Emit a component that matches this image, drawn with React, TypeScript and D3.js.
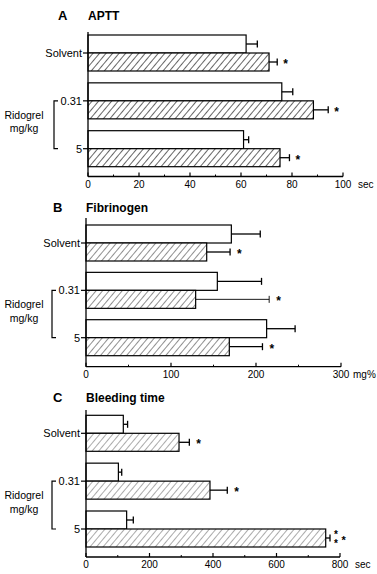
import * as d3 from 'd3'

const categories = ['Solvent', '0.31', '5']

// APTT (sec)
const apttControl = [62, 76, 61]
const apttControlErr = [4.4, 4.3, 2]
const apttTreated = [71, 88.4, 75.3]
const apttTreatedErr = [3.2, 5.8, 3.7]
const apttStars = [1, 1, 1]
const apttTicks = [0, 20, 40, 60, 80, 100]

// Fibrinogen (mg%)
const fibControl = [171, 154.5, 212.5]
const fibControlErr = [34, 52, 33.5]
const fibTreated = [142, 129, 168.6]
const fibTreatedErr = [27.5, 86.5, 39]
const fibStars = [1, 1, 1]
const fibTicks = [0, 100, 200, 300]

// Bleeding time (sec)
const bleedControl = [117.5, 102, 128]
const bleedControlErr = [13.5, 10.5, 21]
const bleedTreated = [293, 390.5, 755]
const bleedTreatedErr = [32.5, 54.5, 13.5]
const bleedStars = [1, 1, 3]
const bleedTicks = [0, 200, 400, 600, 800]

const FONT = 'Liberation Sans, Arial, Helvetica, sans-serif'

type PanelProps = {
  letter: string
  letterX: number
  title: string
  titleY: number
  unit: string
  unitX: number
  ticks: number[]
  control: number[]
  controlErr: number[]
  treated: number[]
  treatedErr: number[]
  stars: number[]
  x0: number
  x1: number
  top: number
  bottom: number
  yFirst: number
  yLast: number
  hatchId: string
  hatchStroke: string
  hatchWidth: number
  starGap: number
}

const Panel = (p: PanelProps) => {
  const max = p.ticks[p.ticks.length - 1]
  const x = d3.scaleLinear().domain([0, max]).range([p.x0, p.x1])
  const y = d3.scalePoint<string>().domain(categories).range([p.yFirst, p.yLast])
  const h = 18
  const step = p.ticks[1] - p.ticks[0]
  const minor = d3.range(step / 2, max, step)
  const b0 = y('0.31')!
  const b1 = y('5')!
  const mid = (b0 + b1) / 2

  const errBar = (v: number, e: number, cy: number, key: string, thin = false) => (
    <g key={key} stroke="#000" strokeWidth={thin ? 0.9 : 1.3}>
      <line x1={x(v)} x2={x(v + e)} y1={cy} y2={cy} />
      <line x1={x(v + e)} x2={x(v + e)} y1={cy - 3.5} y2={cy + 3.5} />
    </g>
  )

  return (
    <g fontFamily={FONT}>
      <defs>
        <pattern id={p.hatchId} width={5} height={5} patternUnits="userSpaceOnUse" patternTransform="rotate(40)">
          <rect width={5} height={5} fill="#fff" />
          <line x1={0} y1={0} x2={0} y2={5} stroke={p.hatchStroke} strokeWidth={p.hatchWidth} />
        </pattern>
      </defs>
      <text x={p.letterX} y={p.titleY} fontSize={13} fontWeight="bold">{p.letter}</text>
      <text x={p.x0} y={p.titleY} fontSize={12} fontWeight="bold">{p.title}</text>

      {categories.map((c, i) => {
        const yb = y(c)!
        const sx = x(p.treated[i] + p.treatedErr[i])
        return (
          <g key={c}>
            <rect x={x(0)} y={yb - h} width={x(p.control[i]) - x(0)} height={h} fill="#fff" stroke="#000" strokeWidth={1.2} />
            <rect x={x(0)} y={yb} width={x(p.treated[i]) - x(0)} height={h} fill={`url(#${p.hatchId})`} stroke="#000" strokeWidth={1.2} />
            {errBar(p.control[i], p.controlErr[i], yb - h / 2, 'c')}
            {errBar(p.treated[i], p.treatedErr[i], yb + h / 2, 't', p.treatedErr[i] > 60)}
            {p.stars[i] === 1 ? (
              <text x={sx + p.starGap} y={yb + h / 2 + 6} fontSize={12} fontWeight="bold">*</text>
            ) : (
              <g fontWeight="bold">
                <text
                  x={sx + 6} y={yb} fontSize={10}
                  style={{ writingMode: 'vertical-rl', textOrientation: 'upright', letterSpacing: '-2px' }}
                >**</text>
                <text x={sx + 11.5} y={yb + h / 2 + 6} fontSize={11}>*</text>
              </g>
            )}
            <line x1={x(0) - 5} x2={x(0)} y1={yb} y2={yb} stroke="#000" strokeWidth={1.2} />
            <text x={x(0) - 6} y={yb} dy="0.35em" fontSize={11} textAnchor="end">{c}</text>
          </g>
        )
      })}

      <line x1={x(0)} x2={x(0)} y1={p.top} y2={p.bottom} stroke="#000" strokeWidth={1.3} />
      <line x1={x(0)} x2={x(max)} y1={p.bottom} y2={p.bottom} stroke="#000" strokeWidth={1.3} />
      {p.ticks.map((t) => (
        <g key={t}>
          <line x1={x(t)} x2={x(t)} y1={p.bottom} y2={p.bottom - 4} stroke="#000" strokeWidth={1.2} />
          <text x={x(t)} y={p.bottom + 11} fontSize={10} textAnchor="middle">{t}</text>
        </g>
      ))}
      {minor.map((t) => (
        <line key={t} x1={x(t)} x2={x(t)} y1={p.bottom} y2={p.bottom - 2} stroke="#000" strokeWidth={1} />
      ))}
      <text x={p.unitX} y={p.bottom + 11} fontSize={10}>{p.unit}</text>

      <path d={`M${p.x0 - 30},${b0} H${p.x0 - 34} V${b1} H${p.x0 - 30}`} fill="none" stroke="#000" strokeWidth={1.2} />
      <text x={24} y={mid - 9.5} dy="0.35em" fontSize={10.5} textAnchor="middle">Ridogrel</text>
      <text x={24} y={mid + 4} dy="0.35em" fontSize={10.5} textAnchor="middle">mg/kg</text>
    </g>
  )
}

export default function App() {
  return (
    <svg width={377} height={574} style={{ position: 'absolute', left: 0, top: 0, background: '#fff' }}>
      <Panel
        letter="A" letterX={58} title="APTT" titleY={20} unit="sec" unitX={358}
        ticks={apttTicks} control={apttControl} controlErr={apttControlErr}
        treated={apttTreated} treatedErr={apttTreatedErr} stars={apttStars}
        x0={88} x1={343} top={32} bottom={176.5} yFirst={53} yLast={148.7}
        hatchId="hA" hatchStroke="#000" hatchWidth={1.2} starGap={6}
      />
      <Panel
        letter="B" letterX={53} title="Fibrinogen" titleY={212} unit="mg%" unitX={353}
        ticks={fibTicks} control={fibControl} controlErr={fibControlErr}
        treated={fibTreated} treatedErr={fibTreatedErr} stars={fibStars}
        x0={86} x1={341} top={218} bottom={366.7} yFirst={243} yLast={337.7}
        hatchId="hB" hatchStroke="#222" hatchWidth={1} starGap={7}
      />
      <Panel
        letter="C" letterX={53} title="Bleeding time" titleY={402} unit="sec" unitX={355}
        ticks={bleedTicks} control={bleedControl} controlErr={bleedControlErr}
        treated={bleedTreated} treatedErr={bleedTreatedErr} stars={bleedStars}
        x0={86} x1={340} top={410} bottom={557} yFirst={433.3} yLast={529}
        hatchId="hC" hatchStroke="#444" hatchWidth={0.9} starGap={7}
      />
    </svg>
  )
}
